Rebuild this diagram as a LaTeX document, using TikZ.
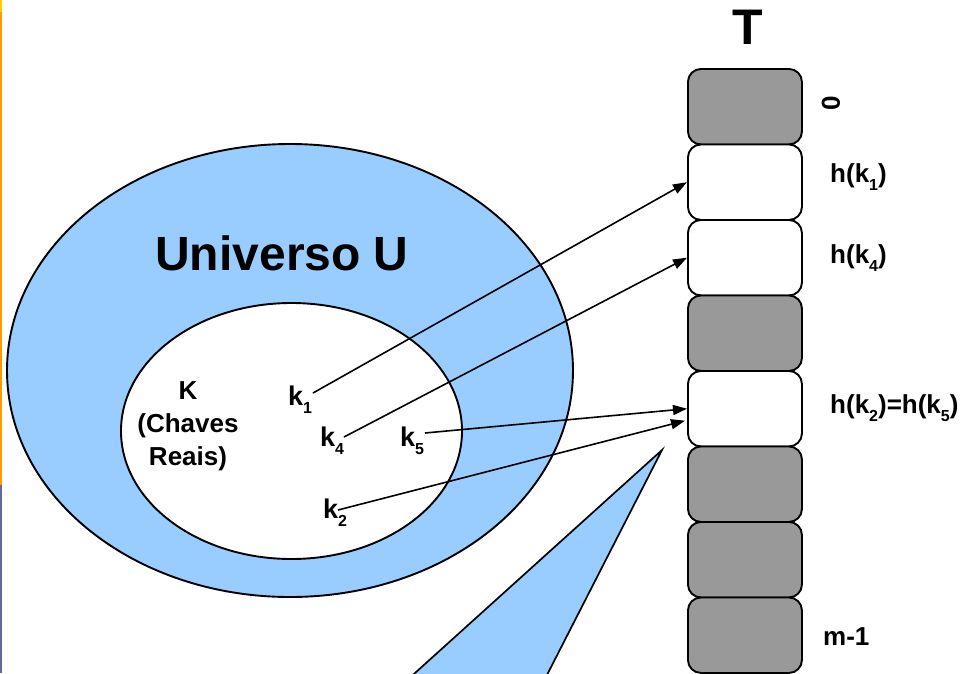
\documentclass[tikz,border=0pt]{standalone}
\usepackage{fontspec}
\setmainfont{Liberation Sans}
\usetikzlibrary{shapes.geometric,arrows.meta,calc}

\definecolor{setblue}{HTML}{99CCFF}
\definecolor{slotgray}{HTML}{999999}
\definecolor{baryellow}{HTML}{FFCC00}
\definecolor{barorange}{HTML}{FF9900}
\definecolor{barpurple}{HTML}{666699}

% small lowered index digit
\newcommand{\keyidx}[1]{\raisebox{-8pt}{\fontsize{16}{16}\selectfont #1}}

\begin{document}
\begin{tikzpicture}[x=1pt,y=-1pt,
  setshape/.style={ellipse, draw, line width=1.9pt, inner sep=0pt},
  slot/.style={draw, line width=1.9pt, rounded corners=13pt, minimum width=114pt,
    minimum height=75.5pt, inner sep=0pt, anchor=north west},
  lbl/.style={inner sep=0pt, font=\fontsize{26}{33}\selectfont\bfseries},
  keylbl/.style={lbl, anchor=base west},
  keyname/.style={inner sep=0pt, anchor=base west, font=\fontsize{27}{33}\selectfont\bfseries},
  hasharrow/.style={line width=1.6pt, -{Triangle[length=14pt,width=10pt]}}]

\useasboundingbox (0,0) rectangle (961,673);

% thin coloured strip on the left edge
\fill[barorange] (0,0) rectangle (2,485);
\fill[baryellow] (0,0) rectangle (2,12);
\fill[barpurple] (0,485) rectangle (2,673);

% universe and key set
\node[setshape, fill=setblue, minimum width=566pt, minimum height=453pt] (U) at (290,370.5) {};
\node[setshape, fill=white, minimum width=341pt, minimum height=256pt] (K) at (291.5,431) {};

\node[inner sep=0pt, anchor=base, font=\fontsize{48}{56}\selectfont\bfseries] (uname) at (282,270) {Universo U};
\node[lbl, align=center] (kname) at (188,426) {K\\(Chaves\\Reais)};

% blue wedge below the table arrows
\begin{scope}
  \clip (0,0) rectangle (961,673);
  \filldraw[fill=setblue, draw=black, line width=1.7pt]
    (662,450) -- ($(662,450)!1.12!(415,673)$) -- ($(662,450)!1.12!(548,673)$) -- cycle;
\end{scope}

% hash table T
\node[inner sep=0pt, anchor=base, font=\fontsize{50}{56}\selectfont\bfseries] (tname) at (748,44) {T};
\foreach \i/\f in {0/slotgray,1/white,2/white,3/slotgray,4/white,5/slotgray,6/slotgray,7/slotgray}
  \node[slot, fill=\f] (c\i) at (687,{68+75.5*\i}) {};

\node[lbl, rotate=90] (l0) at (831,103) {0};
\node[keylbl] (l1) at (830,182) {h(k\keyidx{1})};
\node[keylbl] (l2) at (830,263) {h(k\keyidx{4})};
\node[keylbl] (l4) at (830,413) {h(k\keyidx{2})=h(k\keyidx{5})};
\node[keylbl] (l7) at (823,645) {m-1};

% keys
\node[keyname] (k1) at (288,405) {k\keyidx{1}};
\node[keyname] (k4) at (320,446) {k\keyidx{4}};
\node[keyname] (k5) at (400,446) {k\keyidx{5}};
\node[keyname] (k2) at (323,518) {k\keyidx{2}};

\coordinate (s1) at ($(k1.base west)+(25,-12)$);
\coordinate (s4) at ($(k4.base west)+(24,-9)$);
\coordinate (s5) at ($(k5.base west)+(25,-13)$);
\coordinate (s2) at ($(k2.base west)+(15,-8)$);
\coordinate (t2) at ($(c4.west)+(-2,12)$);

% hash function arrows
\draw[hasharrow] (s1) -- (c1.west);
\draw[hasharrow] (s4) -- (c2.west);
\draw[hasharrow] (s5) -- (c4.west);
\draw[hasharrow] (s2) -- (t2);

\end{tikzpicture}
\end{document}
